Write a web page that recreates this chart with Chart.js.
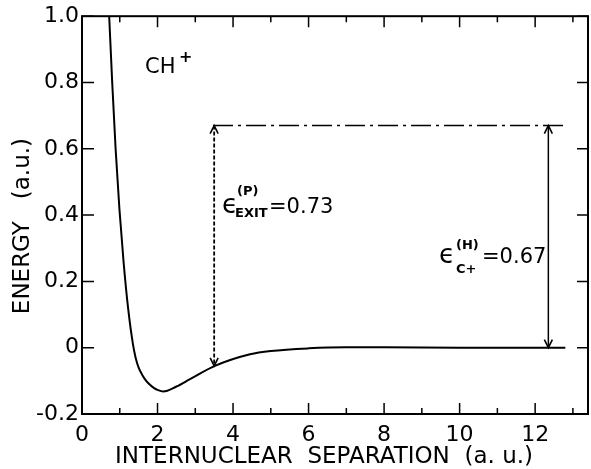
<!DOCTYPE html>
<html>
<head>
<meta charset="utf-8">
<script src="https://cdn.jsdelivr.net/npm/chart.js@4/dist/chart.umd.min.js"></script>
<style>
  body { margin: 0; background: #fff; }
  #wrap { width: 591px; height: 469px; }
</style>
</head>
<body>
<div id="wrap"><canvas id="grafico"></canvas></div>
<script>
// curva de energia potencial do CH+
const separacao = [0.70, 0.72, 0.80, 0.89, 0.99, 1.10, 1.22, 1.35, 1.42, 1.50, 1.60, 1.70, 1.80, 1.90, 2.00, 2.15, 2.50, 2.86, 3.52, 4.45, 5.00, 6.00, 7.00, 8.00, 10.00, 12.80];
const energia   = [1.05, 1.00, 0.80, 0.60, 0.42, 0.26, 0.12, 0.01, -0.030, -0.060, -0.083, -0.100, -0.112, -0.121, -0.127, -0.132, -0.117, -0.095, -0.055, -0.020, -0.010, -0.002, 0.001, 0.001, 0.000, 0.000];

const xTicks = [0, 1, 2, 3, 4, 5, 6, 7, 8, 9, 10, 11, 12, 13];
const yTicks = [-0.2, 0, 0.2, 0.4, 0.6, 0.8, 1.0];

// setas dos valores de energia
const nivel = 0.67;
const linhaNivelX = [3.47, 12.85];
const setaExit = { x: 3.5, topo: 0.67, base: -0.055 };
const setaC = { x: 12.35, topo: 0.67, base: 0.0 };

const fonte = '"DejaVu Sans", sans-serif';

function seta(ctx, x, y, dir) {
    // dir = 1 aponta para baixo, -1 para cima
    ctx.beginPath();
    ctx.moveTo(x - 4, y - dir * 8);
    ctx.lineTo(x, y);
    ctx.lineTo(x + 4, y - dir * 8);
    ctx.stroke();
}

const molduraPlugin = {
    id: 'moldura',
    afterDraw(chart) {
        const ctx = chart.ctx;
        const a = chart.chartArea;
        const sx = chart.scales.x, sy = chart.scales.y;
        ctx.save();
        ctx.strokeStyle = '#000';
        ctx.lineWidth = 2;
        ctx.strokeRect(a.left, a.top, a.right - a.left, a.bottom - a.top);
        ctx.lineWidth = 1.5;
        xTicks.forEach(v => {
            const px = sx.getPixelForValue(v);
            const len = v % 2 === 0 ? 11 : 6;
            ctx.beginPath();
            ctx.moveTo(px, a.bottom); ctx.lineTo(px, a.bottom - len);
            ctx.moveTo(px, a.top); ctx.lineTo(px, a.top + len);
            ctx.stroke();
        });
        yTicks.forEach(v => {
            const py = sy.getPixelForValue(v);
            ctx.beginPath();
            ctx.moveTo(a.left, py); ctx.lineTo(a.left + 12, py);
            ctx.moveTo(a.right, py); ctx.lineTo(a.right - 11, py);
            ctx.stroke();
        });

        // pontas das setas
        ctx.lineWidth = 1.6;
        let px = sx.getPixelForValue(setaExit.x);
        seta(ctx, px, sy.getPixelForValue(setaExit.topo), -1);
        seta(ctx, px, sy.getPixelForValue(setaExit.base), 1);
        px = sx.getPixelForValue(setaC.x);
        seta(ctx, px, sy.getPixelForValue(setaC.topo), -1);
        seta(ctx, px, sy.getPixelForValue(setaC.base), 1);

        // textos
        ctx.fillStyle = '#000';
        ctx.textBaseline = 'alphabetic';
        ctx.textAlign = 'left';
        ctx.font = '21px ' + fonte;
        ctx.fillText('CH', 145, 73);
        ctx.font = 'bold 16px ' + fonte;
        ctx.fillText('+', 179, 62);

        ctx.font = '26px ' + fonte;
        ctx.fillText('\u03f5', 222, 213);
        ctx.font = 'bold 13px ' + fonte;
        ctx.fillText('(P)', 237, 195);
        ctx.fillText('EXIT', 235, 217);
        ctx.font = '21px ' + fonte;
        ctx.fillText('=0.73', 269, 213);

        ctx.font = '26px ' + fonte;
        ctx.fillText('\u03f5', 439, 263);
        ctx.font = 'bold 13px ' + fonte;
        ctx.fillText('(H)', 456, 249);
        ctx.fillText('C+', 456, 273);
        ctx.font = '21px ' + fonte;
        ctx.fillText('=0.67', 482, 263);
        ctx.restore();
    }
};

const ctx = document.getElementById('grafico').getContext('2d');
new Chart(ctx, {
    type: 'scatter',
    data: {
        datasets: [
            {
                data: separacao.map((x, i) => ({ x: x, y: energia[i] })),
                showLine: true,
                borderColor: '#000',
                borderWidth: 2,
                pointRadius: 0,
                cubicInterpolationMode: 'monotone'
            },
            {
                data: linhaNivelX.map(x => ({ x: x, y: nivel })),
                showLine: true,
                borderColor: '#000',
                borderWidth: 1.5,
                borderDash: [20, 5, 3, 5],
                pointRadius: 0
            },
            {
                data: [{ x: setaExit.x, y: setaExit.topo }, { x: setaExit.x, y: setaExit.base }],
                showLine: true,
                borderColor: '#000',
                borderWidth: 1.8,
                borderDash: [4, 2],
                pointRadius: 0
            },
            {
                data: [{ x: setaC.x, y: setaC.topo }, { x: setaC.x, y: setaC.base }],
                showLine: true,
                borderColor: '#000',
                borderWidth: 1.5,
                pointRadius: 0
            }
        ]
    },
    options: {
        responsive: true,
        maintainAspectRatio: false,
        animation: false,
        layout: { padding: { top: 15, right: 3, left: 0, bottom: 0 } },
        plugins: { legend: { display: false }, tooltip: { enabled: false } },
        scales: {
            x: {
                type: 'linear',
                min: 0,
                max: 13.4,
                afterFit: s => { s.height = 55; },
                afterBuildTicks: s => { s.ticks = xTicks.map(v => ({ value: v })); },
                grid: { display: false, drawTicks: false },
                border: { display: false },
                ticks: {
                    padding: 8,
                    color: '#000',
                    font: { family: fonte, size: 22 },
                    maxRotation: 0,
                    autoSkip: false,
                    callback: v => (v % 2 === 0 ? String(v) : '')
                },
                title: {
                    display: true,
                    text: 'INTERNUCLEAR  SEPARATION  (a. u.)   ',
                    color: '#000',
                    font: { family: fonte, size: 23 },
                    padding: { top: 0, bottom: -2 }
                }
            },
            y: {
                min: -0.2,
                max: 1.0,
                afterFit: s => { s.width = 82; },
                afterBuildTicks: s => { s.ticks = yTicks.map(v => ({ value: v })); },
                grid: { display: false, drawTicks: false },
                border: { display: false },
                ticks: {
                    padding: 3,
                    color: '#000',
                    font: { family: fonte, size: 22 },
                    callback: v => (Math.abs(v) < 1e-9 ? '0' : v.toFixed(1))
                },
                title: {
                    display: true,
                    text: 'ENERGY   (a.u.)   ',
                    color: '#000',
                    font: { family: fonte, size: 23 },
                    padding: { top: 9, bottom: 0 }
                }
            }
        }
    },
    plugins: [molduraPlugin]
});
</script>
</body>
</html>
